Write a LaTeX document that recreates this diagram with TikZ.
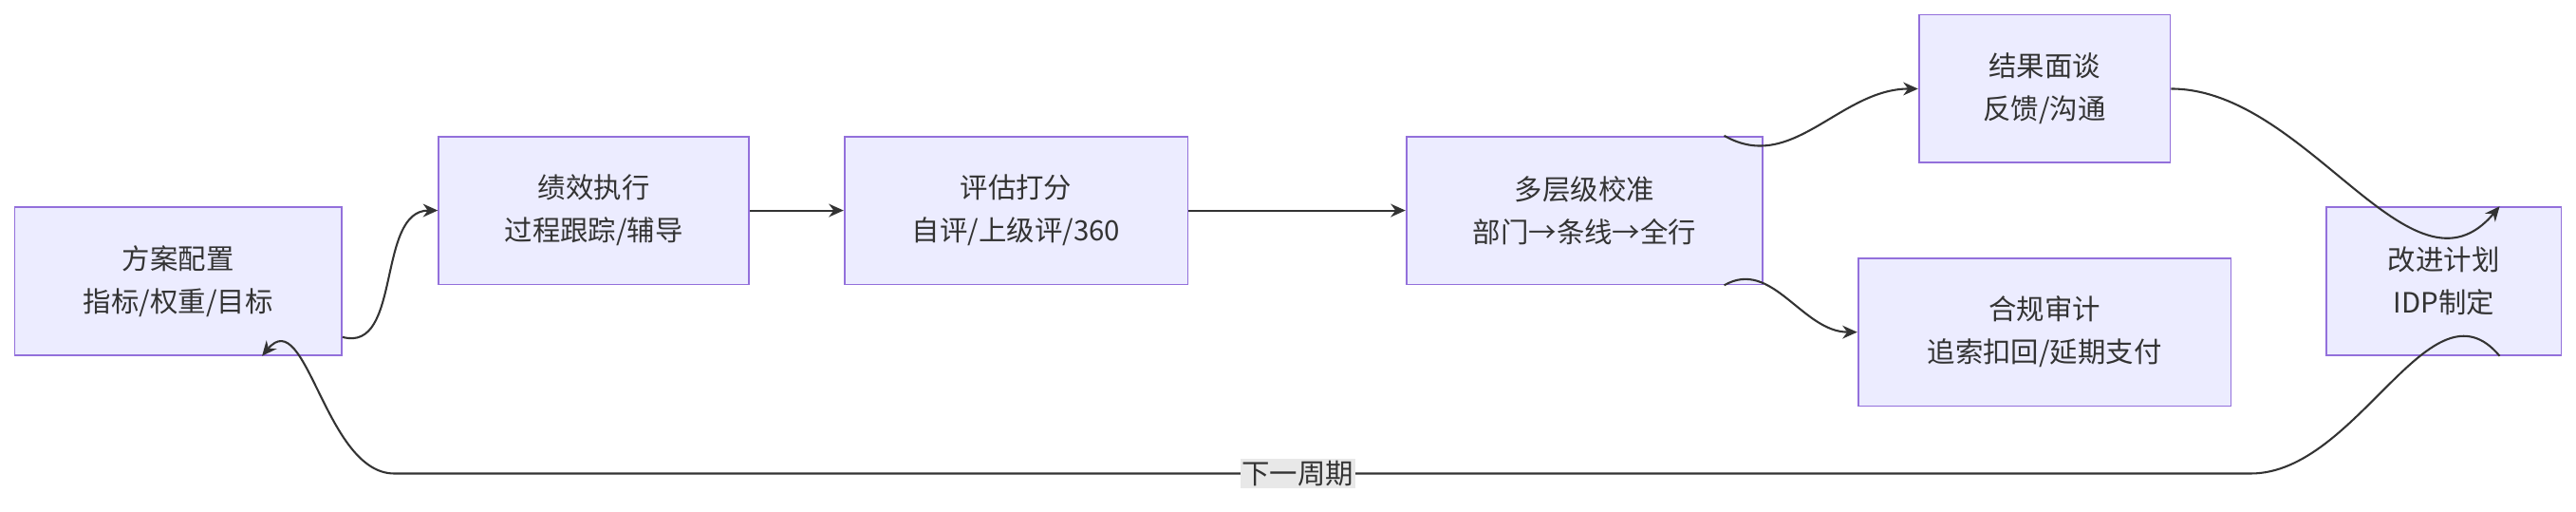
\documentclass[tikz,border=0pt]{standalone}
\usepackage{fontspec}
\setmainfont{Noto Sans CJK SC}
\usetikzlibrary{arrows.meta}
\definecolor{boxfill}{HTML}{ECECFF}
\definecolor{boxline}{HTML}{9370DB}
\definecolor{edgeline}{HTML}{333333}
\definecolor{lblfill}{HTML}{E8E8E8}
\tikzset{
  stage/.style={draw=boxline,fill=boxfill,line width=1pt,align=center,
    font=\fontsize{17}{26}\selectfont,text=edgeline,inner sep=0pt},
  flow/.style={draw=edgeline,line width=1.2pt,-{Stealth[length=9pt,width=8pt]}}
}
\begin{document}
\begin{tikzpicture}[x=1pt,y=-1pt]
  \useasboundingbox (0,0) rectangle (1568,311);
  %
  \node[stage,minimum width=199,minimum height=90] (plan)   at (108.5,171) {方案配置\\指标/权重/目标};
  \node[stage,minimum width=189,minimum height=90] (exec)   at (361.5,128) {绩效执行\\过程跟踪/辅导};
  \node[stage,minimum width=209,minimum height=90] (score)  at (618.5,128) {评估打分\\自评/上级评/360};
  \node[stage,minimum width=217,minimum height=90] (calib)  at (964.5,128) {多层级校准\\部门→条线→全行};
  \node[stage,minimum width=153,minimum height=90] (talk)   at (1244.5,54) {结果面谈\\反馈/沟通};
  \node[stage,minimum width=227,minimum height=90] (audit)  at (1244.5,202) {合规审计\\追索扣回/延期支付};
  \node[stage,minimum width=143,minimum height=90] (improve) at (1487.5,171) {改进计划\\IDP制定};
  %
  \coordinate (loopR) at (1370,288);
  \coordinate (loopL) at (240,288);
  \draw[flow] ([yshift=-34]plan.east) to[out=-15,in=180] (exec.west);
  \draw[flow] (exec) -- (score);
  \draw[flow] (score) -- (calib);
  \draw[flow] ([xshift=-24]calib.north east) to[out=-30,in=180] (talk.west);
  \draw[flow] ([xshift=-24]calib.south east) to[out=30,in=180] (audit.west);
  \draw[flow] (talk.east) to[out=0,in=-130] ([xshift=-38]improve.north east);
  \draw[flow] ([xshift=-38]improve.south east) to[out=130,in=0] (loopR)
    -- (loopL) to[out=180,in=50] ([xshift=-49]plan.south east);
  \node[fill=lblfill,font=\fontsize{17}{20}\selectfont,text=edgeline,inner sep=1pt] (cycle) at (790,288) {下一周期};
\end{tikzpicture}
\end{document}
